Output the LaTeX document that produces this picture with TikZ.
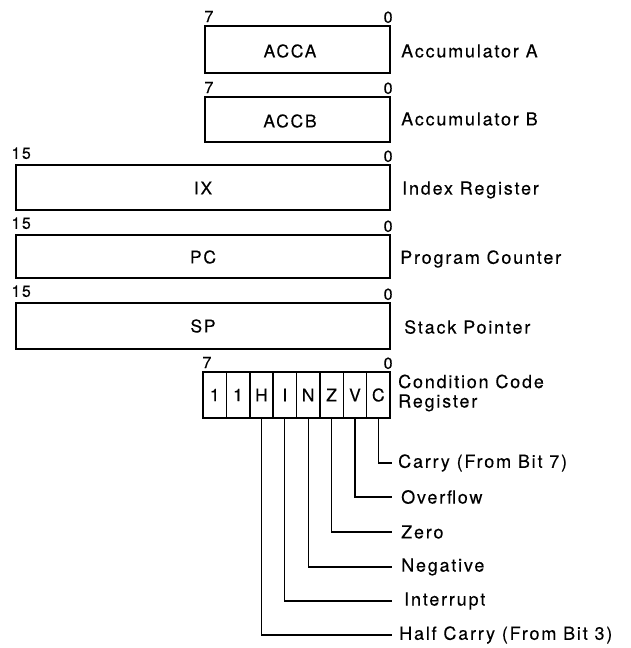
\documentclass[tikz,border=0pt]{standalone}
\usepackage{fontspec}
\setmainfont{TeX Gyre Heros}[LetterSpace=10,FakeBold=0.2]
\begin{document}
\begin{tikzpicture}[x=1pt,y=-1pt]
\tikzset{
 reg/.style={draw, line width=1.5pt, inner sep=0pt},
 regtext/.style={font=\fontsize{17.5}{18}\selectfont, inner sep=0pt},
 lbl/.style={font=\fontsize{18}{19.5}\selectfont, anchor=west, inner sep=0pt, align=left},
 bitnum/.style={font=\fontsize{16}{16}\selectfont, inner sep=0pt},
 leader/.style={line width=1.3pt},
 cell/.style={draw, line width=1.5pt, minimum width=23.375pt, minimum height=46pt, inner sep=0pt, font=\fontsize{17.5}{18}\selectfont}
}
\useasboundingbox (0,0) rectangle (631,648);
% Accumulator A
\node[reg, minimum width=185pt, minimum height=47pt] (acca) at (297.5,49.5) {};
\node[regtext] (accat) at (290,51) {ACCA};
\node[lbl] (accal) at (401,51) {Accumulator A};
\node[bitnum, anchor=south west] (acca7) at ([yshift=3pt]acca.north west) {7};
\node[bitnum, anchor=south east] (acca0) at ([xshift=2pt,yshift=2pt]acca.north east) {0};
% Accumulator B
\node[reg, minimum width=185pt, minimum height=45pt] (accb) at (297.5,119.5) {};
\node[regtext] (accbt) at (290,121) {ACCB};
\node[lbl] (accbl) at (401,119) {Accumulator B};
\node[bitnum, anchor=south west] (accb7) at ([yshift=3pt]accb.north west) {7};
\node[bitnum, anchor=south east] (accb0) at ([xshift=2pt,yshift=2pt]accb.north east) {0};
% Index register
\node[reg, minimum width=374pt, minimum height=45pt] (ix) at (203,187.5) {};
\node[regtext] (ixt) at (203,188) {IX};
\node[lbl] (ixl) at (402,190) {Index Register};
\node[bitnum, anchor=south west] (ix15) at ([xshift=-4pt,yshift=5pt]ix.north west) {15};
\node[bitnum, anchor=south east] (ix0) at ([xshift=2pt,yshift=2pt]ix.north east) {0};
% Program counter
\node[reg, minimum width=374pt, minimum height=43pt] (pc) at (203,256.5) {};
\node[regtext] (pct) at (203,257) {PC};
\node[lbl] (pcl) at (400,259) {Program Counter};
\node[bitnum, anchor=south west] (pc15) at ([xshift=-4pt,yshift=5pt]pc.north west) {15};
\node[bitnum, anchor=south east] (pc0) at ([xshift=2pt,yshift=2pt]pc.north east) {0};
% Stack pointer
\node[reg, minimum width=374pt, minimum height=46pt] (sp) at (203,326) {};
\node[regtext] (spt) at (203,326) {SP};
\node[lbl] (spl) at (404,327) {Stack Pointer};
\node[bitnum, anchor=south west] (sp15) at ([xshift=-4pt,yshift=5pt]sp.north west) {15};
\node[bitnum, anchor=south east] (sp0) at ([xshift=2pt,yshift=2pt]sp.north east) {0};
% Condition code register
\foreach \t [count=\i] in {1,1,H,I,N,Z,V,C}
  \node[cell] (c\i) at ({203+23.375*(\i-0.5)},395) {\t};
\node[bitnum, anchor=south west] (cc7) at ([yshift=3pt]c1.north west) {7};
\node[bitnum, anchor=south east] (cc0) at ([xshift=2pt,yshift=2pt]c8.north east) {0};
\node[lbl] (ccl) at (398,393) {Condition Code\\Register};
% Flag labels
\node[lbl] (fc) at (398,463) {Carry (From Bit 7)};
\node[lbl] (fv) at (401,497) {Overflow};
\node[lbl] (fz) at (401,532) {Zero};
\node[lbl] (fn) at (401,567) {Negative};
\node[lbl] (fi) at (404,601) {Interrupt};
\node[lbl] (fh) at (399,635) {Half Carry (From Bit 3)};
% Leaders
\draw[leader] (c8.south) |- ([xshift=-6pt]fc.west);
\draw[leader] (c7.south) |- ([xshift=-9pt]fv.west);
\draw[leader] (c6.south) |- ([xshift=-9pt]fz.west);
\draw[leader] (c5.south) |- ([xshift=-9pt]fn.west);
\draw[leader] (c4.south) |- ([xshift=-12pt]fi.west);
\draw[leader] (c3.south) |- ([xshift=-7pt]fh.west);
\end{tikzpicture}
\end{document}
